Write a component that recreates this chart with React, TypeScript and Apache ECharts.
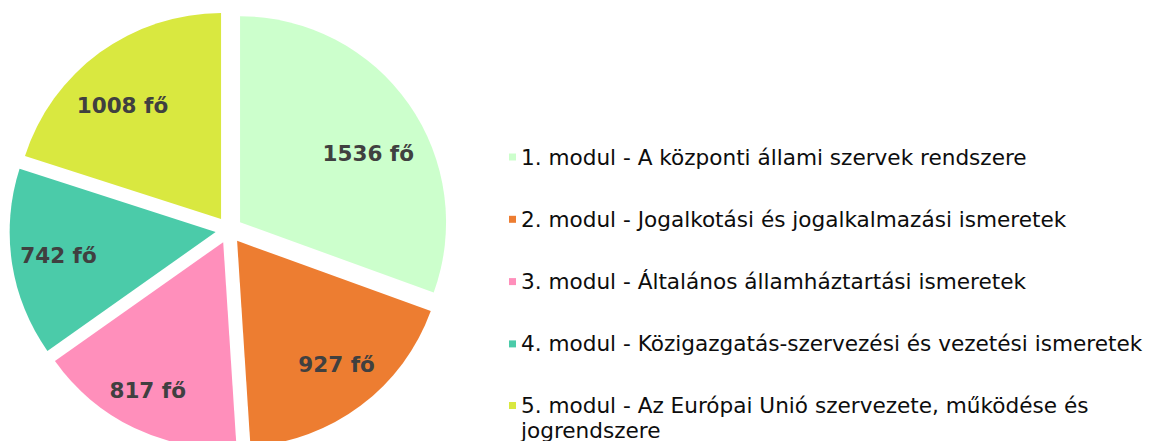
import React, { useEffect, useRef } from "react";
import * as echarts from "echarts";

const categories = [
  "1. modul - A központi állami szervek rendszere",
  "2. modul - Jogalkotási és jogalkalmazási ismeretek",
  "3. modul - Általános államháztartási ismeretek",
  "4. modul - Közigazgatás-szervezési és vezetési ismeretek",
  "5. modul - Az Európai Unió szervezete, működése és jogrendszere",
];
const values = [1536, 927, 817, 742, 1008];
const colors = ["#CCFFCC", "#ED7D31", "#FF8FBB", "#4BCBA9", "#D9E840"];
const unit = "fő";
// small per-label nudges (px) to mimic the original label placement
const labelNudges = [
  [-2, 23],
  [4, -3],
  [-7, 5],
  [0, -1],
  [-5, 15],
];

const FONT = "DejaVu Sans, Verdana, sans-serif";

export default function App() {
  const ref = useRef<HTMLDivElement>(null);
  useEffect(() => {
    if (!ref.current) return;
    const chart = echarts.init(ref.current, undefined, { renderer: "svg" });
    const baseData = categories.map((name, i) => ({
      name,
      value: values[i],
      selected: true,
      itemStyle: { color: colors[i] },
      select: { itemStyle: { color: colors[i] } },
    }));
    const overlayData = categories.map((name, i) => ({
      name,
      value: values[i],
      selected: true,
      itemStyle: { color: "rgba(0,0,0,0)" },
      select: { itemStyle: { color: "rgba(0,0,0,0)" } },
    }));
    const legendText = {
      fontFamily: FONT,
      fontSize: 21.6,
      color: "#0d0d0d",
      lineHeight: 25,
    };
    chart.setOption({
      animation: false,
      legend: [
        {
          orient: "vertical",
          left: 509,
          top: 144.5,
          padding: 0,
          itemGap: 37.3,
          itemWidth: 7,
          itemHeight: 7,
          icon: "rect",
          selectedMode: false,
          textStyle: legendText,
          data: categories.slice(0, 4).map((name, i) => ({
            name,
            itemStyle: { color: colors[i] },
          })),
        },
        {
          orient: "vertical",
          left: 509,
          top: 368,
          padding: 0,
          itemWidth: 7,
          itemHeight: 7,
          icon: "rect",
          selectedMode: false,
          formatter: (name: string) => "\n" + name,
          textStyle: {
            ...legendText,
            width: 640,
            overflow: "break",
          },
          data: [{ name: categories[4], itemStyle: { color: colors[4] } }],
        },
      ],
      series: [
        {
          type: "pie",
          center: [229, 230],
          radius: 206,
          startAngle: 90,
          clockwise: true,
          selectedMode: "multiple",
          selectedOffset: 13.5,
          label: { show: false },
          labelLine: { show: false },
          emphasis: { disabled: true },
          data: baseData,
        },
        {
          type: "pie",
          center: [229, 230],
          radius: [106, 206],
          startAngle: 90,
          clockwise: true,
          selectedMode: "multiple",
          selectedOffset: 13.5,
          silent: true,
          legendHoverLink: false,
          emphasis: { disabled: true },
          labelLine: { show: false },
          label: {
            show: true,
            position: "inside",
            formatter: (p: any) => `${p.value} ${unit}`,
            fontFamily: FONT,
            fontWeight: "bold",
            fontSize: 21.5,
            color: "#404040",
          },
          labelLayout: (p: any) => {
            const n = labelNudges[p.dataIndex] || [0, 0];
            return { dx: n[0], dy: n[1] };
          },
          data: overlayData,
        },
      ],
    });
    return () => chart.dispose();
  }, []);
  return (
    <div
      ref={ref}
      style={{ position: "absolute", left: 0, top: 0, width: 1149, height: 441 }}
    />
  );
}
